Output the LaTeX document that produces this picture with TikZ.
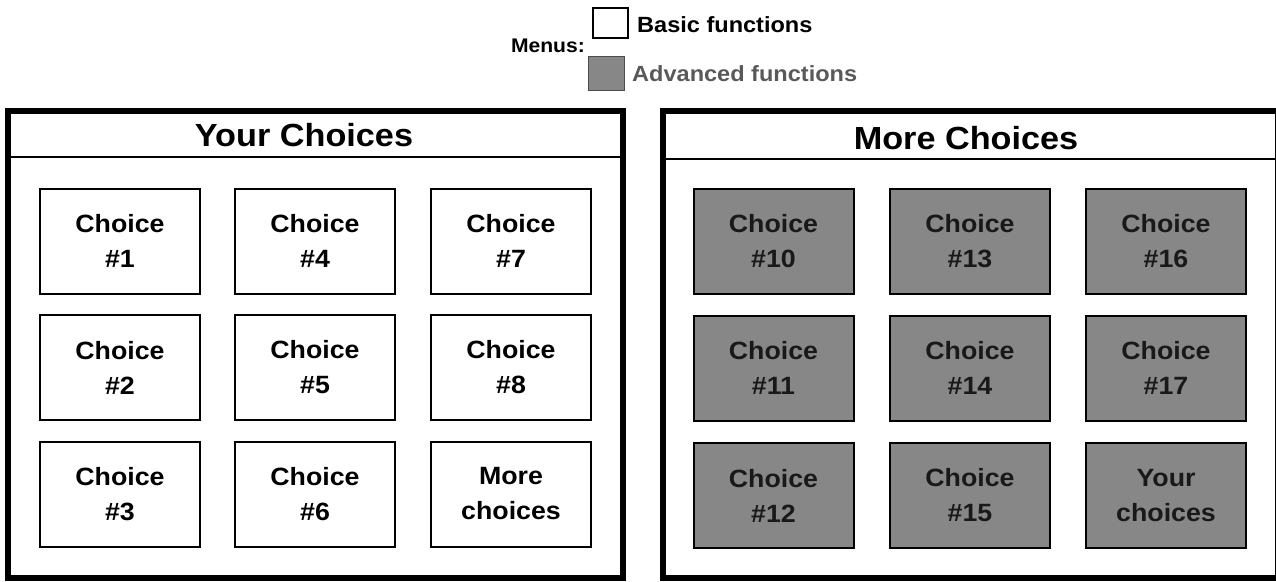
\documentclass[tikz,border=0pt]{standalone}
\usepackage{fontspec}
\setmainfont[FakeStretch=1.07]{Liberation Sans}
\begin{document}
\begin{tikzpicture}[x=1pt,y=-1pt,
	basicbox/.style={draw=black,fill=white,line width=2pt,minimum width=160pt,minimum height=105pt,align=center,font=\fontsize{25}{35}\selectfont\bfseries},
	advbox/.style={basicbox,fill=black!47,text=black!90},
	paneltitle/.style={font=\fontsize{32}{36}\selectfont\bfseries}]
	
	\useasboundingbox (0,0) rectangle (1276,581);
	\clip (0,0) rectangle (1276,581);
	
	% legend
	\node[anchor=east,inner sep=0pt,font=\fontsize{19.7}{24}\selectfont\bfseries] (menus) at(585,46) {Menus:};
	\node[draw=black,line width=2pt,fill=white,minimum width=35pt,minimum height=30pt,inner sep=0pt] (basicsw) at(610,23) {};
	\node[anchor=west,inner sep=0pt,font=\fontsize{22}{24}\selectfont\bfseries] (basic) at(637,25) {Basic functions};
	\node[draw=black!70,line width=1pt,fill=black!47,minimum width=36pt,minimum height=34pt,inner sep=0pt] (advsw) at(606.5,73) {};
	\node[anchor=west,inner sep=0pt,font=\fontsize{22}{24}\selectfont\bfseries,text=black!65] (advanced) at(632,74) {Advanced functions};
	
	% left panel
	\draw[line width=6pt] (8,111) rectangle (622.5,578);
	\draw[line width=2pt] (8,157) -- (622.5,157);
	\node[paneltitle] (yourchoices) at(304,135) {Your Choices};
	
	\node[basicbox] (c1) at(120,241) {Choice\\\#1};
	\node[basicbox] (c4) at(315,241) {Choice\\\#4};
	\node[basicbox] (c7) at(511,241) {Choice\\\#7};
	\node[basicbox] (c2) at(120,367.5) {Choice\\\#2};
	\node[basicbox] (c5) at(315,367.5) {Choice\\\#5};
	\node[basicbox] (c8) at(511,367.5) {Choice\\\#8};
	\node[basicbox] (c3) at(120,494) {Choice\\\#3};
	\node[basicbox] (c6) at(315,494) {Choice\\\#6};
	\node[basicbox] (more) at(511,494) {More\\choices};
	
	% right panel
	\draw[line width=6pt] (662.5,111) rectangle (1278,578);
	\draw[line width=2pt] (662.5,159) -- (1278,159);
	\node[paneltitle] (morechoices) at(966,138) {More Choices};
	
	\node[advbox] (c10) at(773.5,241.5) {Choice\\\#10};
	\node[advbox] (c13) at(970,241.5) {Choice\\\#13};
	\node[advbox] (c16) at(1166,241.5) {Choice\\\#16};
	\node[advbox] (c11) at(773.5,368) {Choice\\\#11};
	\node[advbox] (c14) at(970,368) {Choice\\\#14};
	\node[advbox] (c17) at(1166,368) {Choice\\\#17};
	\node[advbox] (c12) at(773.5,495.5) {Choice\\\#12};
	\node[advbox] (c15) at(970,495.5) {Choice\\\#15};
	\node[advbox] (your) at(1166,495.5) {Your\\choices};
	
\end{tikzpicture}
\end{document}
